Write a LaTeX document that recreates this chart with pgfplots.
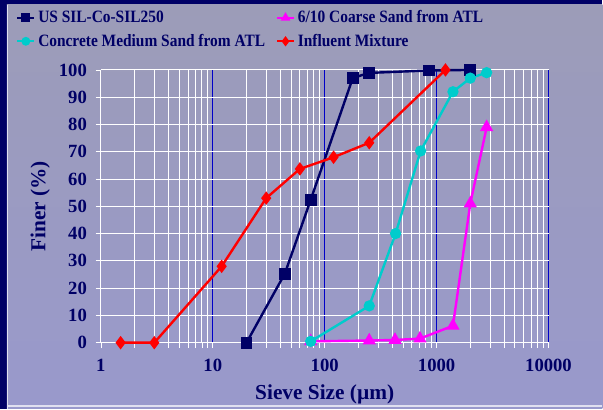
\documentclass[border=0pt]{standalone}
\usepackage{fontspec}
\setmainfont{Liberation Serif}
\newfontfamily\legfont{Liberation Serif}[FakeStretch=0.89]
\usepackage{pgfplots}
\pgfplotsset{compat=1.18}

\definecolor{navy}{HTML}{000066}
\definecolor{lavtop}{HTML}{9C9CB8}
\definecolor{lavbot}{HTML}{9999CC}
\definecolor{decade}{HTML}{0000C8}
\definecolor{cyanser}{HTML}{00CCCC}
\definecolor{magser}{HTML}{FF00FF}

\begin{document}
\begin{tikzpicture}
% background panel (603 x 409 px, 1px = 0.75pt)
\fill[navy] (0pt,0pt) rectangle (452.25pt,306.75pt);
\shade[top color=lavtop, bottom color=lavbot] (5.25pt,0pt) rectangle (452.25pt,303pt);
\draw[white!70!lavbot, line width=0.8pt] (5.6pt,0pt) -- (5.6pt,303pt);
\draw[white!70!lavbot, line width=0.8pt] (5.25pt,2pt) -- (452.25pt,2pt);

\begin{semilogxaxis}[
  at={(75.75pt,49.5pt)}, anchor=origin,
  scale only axis,
  width=336pt, height=204.75pt,
  xmin=1, xmax=10000, ymin=0, ymax=100,
  xtick={1,10,100,1000,10000},
  xticklabels={1,10,100,1000,10000},
  ytick={0,10,...,100},
  axis lines=left,
  axis line style={-, white, line width=0.8pt},
  tick style={white, line width=0.6pt},
  tick align=outside,
  major tick length=4pt, minor tick length=4pt,
  xmajorgrids, xminorgrids, ymajorgrids,
  major x grid style={decade, line width=0.7pt},
  minor x grid style={white, line width=0.7pt},
  major y grid style={white, line width=0.8pt},
  /pgf/number format/assume math mode=true,
  tick label style={font=\bfseries\fontsize{14}{16}\selectfont, text=navy},
  xticklabel style={yshift=-5pt},
  yticklabel style={xshift=-3pt},
  label style={font=\bfseries\fontsize{16}{18}\selectfont, text=navy},
  xlabel={Sieve Size (µm)},
  ylabel={Finer (\%)},
  xlabel style={at={(axis description cs:0.5,0)}, anchor=center, yshift=-38.5pt},
  ylabel style={at={(axis description cs:0,0.5)}, anchor=center, yshift=45.5pt},
  clip=false,
  legend columns=2,
  legend cell align=left,
  legend style={at={(axis description cs:-0.19,1.228)}, anchor=north west,
    draw=none, fill=none, font=\legfont\bfseries\fontsize{13}{15}\selectfont, text=navy,
    column sep=0pt, row sep=3pt, inner sep=0pt,
    /tikz/every even column/.append style={column sep=6pt}},
  legend image post style={mark size=2.4pt},
  legend image code/.code={%
    \draw[draw=., mark repeat=2, mark phase=2]
      plot coordinates {(0cm,0cm)(0.225cm,0cm)(0.45cm,0cm)};},
]
\addplot[navy, line width=1.8pt, mark=square*, mark size=3.5pt]
  coordinates {(20,0)(44,25.3)(75,52.4)(178,97)(247,98.9)(850,99.8)(2000,100)};
\addlegendentry{US SIL-Co-SIL250}
\addplot[magser, line width=1.8pt, mark=triangle*, mark size=4pt]
  coordinates {(75,0.5)(250,0.8)(425,1)(710,1.5)(1400,6.2)(2000,51)(2800,79)};
\addlegendentry{6/10 Coarse Sand from ATL}
\addplot[cyanser, line width=1.8pt, mark=*, mark size=3.3pt]
  coordinates {(75,0.5)(250,13.5)(430,40)(720,70.3)(1400,92)(2000,97)(2800,99)};
\addlegendentry{Concrete Medium Sand from ATL}
\addplot[red, line width=1.8pt, mark=diamond*, mark size=3.6pt]
  coordinates {(1.5,0)(3,0)(12,28)(30,53)(60,63.7)(120,68)(250,73.3)(1200,100)};
\addlegendentry{Influent Mixture}
\end{semilogxaxis}
\end{tikzpicture}
\end{document}
